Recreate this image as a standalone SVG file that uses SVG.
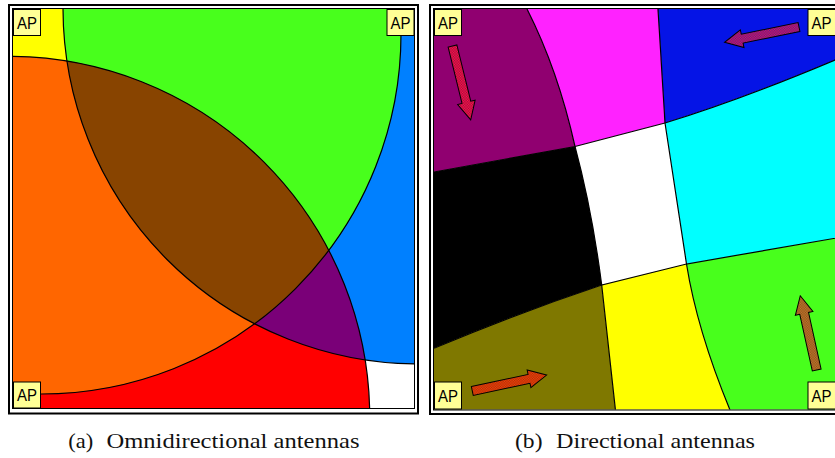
<svg xmlns="http://www.w3.org/2000/svg" xmlns:xlink="http://www.w3.org/1999/xlink" width="835" height="458" viewBox="0 0 835 458">
<style>
.edge{fill:none;stroke:#000;stroke-width:1.2}
.frameO{fill:none;stroke:#000;stroke-width:2}
.frameI{fill:none;stroke:#000;stroke-width:1}
.apbox{fill:#ffff96;stroke:#000;stroke-width:1}
.aptxt{font-family:"Liberation Sans",Arial,sans-serif;font-size:17px;fill:#000}
.cap{font-family:"Liberation Serif","Times New Roman",serif;font-size:21px;fill:#111}
.arrow{stroke:#000;stroke-width:1}
</style>
<defs>
<clipPath id="cTL"><circle cx="41" cy="34" r="360"/></clipPath>
<clipPath id="cTR"><circle cx="419" cy="8" r="356"/></clipPath>
<clipPath id="pa"><rect x="13" y="9" width="401" height="399"/></clipPath>
<clipPath id="pb"><rect x="434" y="9" width="410" height="400.5"/></clipPath>
<path id="arr" d="M0,-4.5 L58,-4.5 L58,-9 L76,0 L58,9 L58,4.5 L0,4.5 Z"/>
<pattern id="p1" patternUnits="userSpaceOnUse" width="2" height="2"><rect width="2" height="2" fill="#a00048"/><rect width="1" height="1" fill="#ff2040"/><rect x="1" y="1" width="1" height="1" fill="#ff2040"/></pattern>
<pattern id="p2" patternUnits="userSpaceOnUse" width="2" height="2"><rect width="2" height="2" fill="#5a1098"/><rect width="1" height="1" fill="#e02050"/><rect x="1" y="1" width="1" height="1" fill="#e02050"/></pattern>
<pattern id="p3" patternUnits="userSpaceOnUse" width="2" height="2"><rect width="2" height="2" fill="#a04000"/><rect width="1" height="1" fill="#ff3010"/><rect x="1" y="1" width="1" height="1" fill="#ff3010"/></pattern>
<pattern id="p4" patternUnits="userSpaceOnUse" width="2" height="2"><rect width="2" height="2" fill="#806018"/><rect width="1" height="1" fill="#d06a30"/><rect x="1" y="1" width="1" height="1" fill="#d06a30"/></pattern>
</defs>
<rect width="835" height="458" fill="#fff"/>

<!-- (a) Omnidirectional coverage -->
<g id="panel-a">
<g clip-path="url(#pa)">
<rect x="13" y="9" width="401" height="399" fill="#fff"/>
<circle cx="41" cy="34" r="360" fill="#ffff00"/>
<circle cx="419" cy="8" r="356" fill="#0080ff"/>
<circle cx="8.75" cy="417.4" r="361" fill="#ff0000"/>
<g clip-path="url(#cTL)">
<circle cx="419" cy="8" r="356" fill="#48ff1c"/>
<circle cx="8.75" cy="417.4" r="361" fill="#ff6600"/>
</g>
<g clip-path="url(#cTR)"><circle cx="8.75" cy="417.4" r="361" fill="#7a0078"/></g>
<g clip-path="url(#cTL)"><g clip-path="url(#cTR)"><circle cx="8.75" cy="417.4" r="361" fill="#884400"/></g></g>
<circle class="edge" cx="41" cy="34" r="360"/>
<circle class="edge" cx="419" cy="8" r="356"/>
<circle class="edge" cx="8.75" cy="417.4" r="361"/>
</g>
<rect class="frameO" x="9" y="5" width="409" height="408.5"/>
<rect class="frameI" x="12.5" y="8.5" width="402" height="400"/>
</g>

<!-- (b) Directional coverage -->
<g id="panel-b">
<g clip-path="url(#pb)">
<path fill="#900070" d="M434,9 L527,9 Q558,70 575,146.5 L434,172 Z"/>
<path fill="#ff22ff" d="M527,9 L658,9 L665,123 L575,146.5 Q558,70 527,9 Z"/>
<path fill="#0514e6" d="M658,9 L845,9 L845,56 L835,60 Q740,100 665,123 Z"/>
<path fill="#00ffff" d="M665,123 Q740,100 835,60 L845,56 L845,236.5 L686.5,264 Z"/>
<path fill="#ffffff" d="M575,146.5 L665,123 L686.5,264 L601.7,285 Q592,210 575,146.5 Z"/>
<path fill="#000000" d="M434,172 L575,146.5 Q592,210 601.7,285 Q518,313 434,348.3 Z"/>
<path fill="#7f7800" d="M434,348.3 Q518,313 601.7,285 L616,415 L434,415 Z"/>
<path fill="#ffff00" d="M601.7,285 L686.5,264 Q697,330 730,410 L731.5,415 L616,415 Z"/>
<path fill="#48ff1c" d="M686.5,264 L845,236.5 L845,415 L731.5,415 L730,410 Q697,330 686.5,264 Z"/>
<g class="bounds">
<path class="edge" d="M527,9 Q558,70 575,146.5"/>
<path class="edge" d="M434,172 L575,146.5 L665,123"/>
<path class="edge" d="M658,9 L665,123"/>
<path class="edge" d="M665,123 Q740,100 835,60 L845,56"/>
<path class="edge" d="M665,123 L686.5,264 L845,236.5"/>
<path class="edge" d="M575,146.5 Q592,210 601.7,285 L686.5,264"/>
<path class="edge" d="M434,348.3 Q518,313 601.7,285 L616,415"/>
<path class="edge" d="M686.5,264 Q697,330 730,410 L731.5,415"/>
</g>
<g id="beams">
<use xlink:href="#arr" class="arrow" fill="url(#p1)" transform="translate(452.5,46) rotate(76.15)"/>
<use xlink:href="#arr" class="arrow" fill="url(#p2)" transform="translate(799,27) rotate(168.4)"/>
<use xlink:href="#arr" class="arrow" fill="url(#p3)" transform="translate(472.3,391) rotate(-12.1)"/>
<use xlink:href="#arr" class="arrow" fill="url(#p4)" transform="translate(816.7,370) rotate(-102.5)"/>
</g>
</g>
<rect class="frameO" x="430" y="5" width="420" height="409"/>
<rect class="frameI" x="433.5" y="8.5" width="412" height="401.5"/>
</g>

<!-- Access points -->
<g id="ap-a-tl"><rect class="apbox" x="13.5" y="9.5" width="27" height="26"/><text class="aptxt" x="17" y="28.5" textLength="20" lengthAdjust="spacingAndGlyphs">AP</text></g>
<g id="ap-a-tr"><rect class="apbox" x="387" y="9.5" width="27" height="26"/><text class="aptxt" x="390.5" y="28.5" textLength="20" lengthAdjust="spacingAndGlyphs">AP</text></g>
<g id="ap-a-bl"><rect class="apbox" x="13.5" y="382" width="27" height="26"/><text class="aptxt" x="17" y="401" textLength="20" lengthAdjust="spacingAndGlyphs">AP</text></g>
<g id="ap-b-tl"><rect class="apbox" x="434.5" y="9.5" width="27" height="26"/><text class="aptxt" x="438" y="28.5" textLength="20" lengthAdjust="spacingAndGlyphs">AP</text></g>
<g id="ap-b-tr"><rect class="apbox" x="808" y="9.5" width="32" height="26"/><text class="aptxt" x="811.5" y="28.5" textLength="20" lengthAdjust="spacingAndGlyphs">AP</text></g>
<g id="ap-b-bl"><rect class="apbox" x="434.5" y="382" width="27" height="27"/><text class="aptxt" x="438" y="401.5" textLength="20" lengthAdjust="spacingAndGlyphs">AP</text></g>
<g id="ap-b-br"><rect class="apbox" x="808" y="382" width="32" height="27"/><text class="aptxt" x="811.5" y="401.5" textLength="20" lengthAdjust="spacingAndGlyphs">AP</text></g>

<!-- Captions -->
<g id="captions">
<text class="cap" x="68.3" y="448" textLength="25" lengthAdjust="spacingAndGlyphs">(a)</text>
<text class="cap" x="106.5" y="448" textLength="253" lengthAdjust="spacingAndGlyphs">Omnidirectional antennas</text>
<text class="cap" x="515" y="448" textLength="27.5" lengthAdjust="spacingAndGlyphs">(b)</text>
<text class="cap" x="556" y="448" textLength="199" lengthAdjust="spacingAndGlyphs">Directional antennas</text>
</g>
</svg>
